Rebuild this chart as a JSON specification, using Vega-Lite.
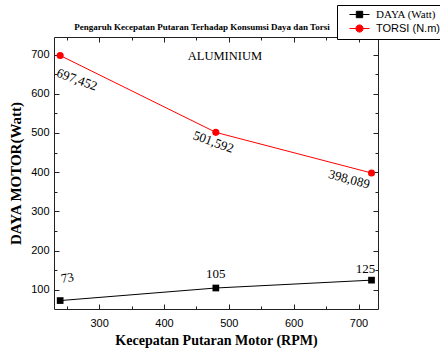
{
  "$schema": "https://vega.github.io/schema/vega-lite/v6.json",
  "autosize": "none",
  "width": 324,
  "height": 272,
  "padding": {"left": 54, "top": 37, "right": 62, "bottom": 39},
  "background": "white",
  "title": {
    "text": "Pengaruh Kecepatan Putaran Terhadap Konsumsi Daya dan Torsi",
    "font": "Liberation Serif",
    "fontSize": 9,
    "fontWeight": "bold",
    "color": "black",
    "anchor": "middle",
    "dx": -14,
    "dy": 32,
    "offset": 5
  },
  "config": {
    "view": {"stroke": "#222", "strokeWidth": 1},
    "axis": {
      "domain": false,
      "grid": false,
      "labelFont": "Liberation Sans",
      "labelFontSize": 11,
      "labelColor": "black",
      "tickColor": "#222",
      "titleColor": "black",
      "titleFont": "Liberation Serif",
      "titleFontWeight": "bold"
    }
  },
  "data": {
    "values": [
      {"rpm": 240, "series": "DAYA (Watt)", "value": 73, "label": "73"},
      {"rpm": 480, "series": "DAYA (Watt)", "value": 105, "label": "105"},
      {"rpm": 720, "series": "DAYA (Watt)", "value": 125, "label": "125"},
      {"rpm": 240, "series": "TORSI (N.m)", "value": 697.452, "label": "697,452"},
      {"rpm": 480, "series": "TORSI (N.m)", "value": 501.592, "label": "501,592"},
      {"rpm": 720, "series": "TORSI (N.m)", "value": 398.089, "label": "398,089"}
    ]
  },
  "layer": [
    {
      "mark": {"type": "line", "strokeWidth": 1},
      "encoding": {
        "x": {
          "field": "rpm", "type": "quantitative",
          "scale": {"domain": [230.5, 730], "nice": false, "zero": false},
          "axis": {
            "orient": "bottom",
            "title": "Kecepatan Putaran Motor (RPM)",
            "titleFontSize": 14,
            "titlePadding": 5,
            "values": [250, 300, 350, 400, 450, 500, 550, 600, 650, 700],
            "labelExpr": "datum.value % 100 === 0 ? datum.label : ''",
            "tickSize": {"condition": {"test": "datum.value % 100 === 0", "value": -5}, "value": -3},
            "labelPadding": 13
          }
        },
        "y": {
          "field": "value", "type": "quantitative",
          "scale": {"domain": [51.5, 744.6], "nice": false, "zero": false},
          "axis": {
            "orient": "left",
            "title": "DAYA MOTOR(Watt)",
            "titleFontSize": 15,
            "titlePadding": 7,
            "values": [100, 150, 200, 250, 300, 350, 400, 450, 500, 550, 600, 650, 700],
            "labelExpr": "datum.value % 100 === 0 ? datum.label : ''",
            "tickSize": {"condition": {"test": "datum.value % 100 === 0", "value": -5}, "value": -3},
            "labelPadding": 10
          }
        },
        "color": {
          "field": "series", "type": "nominal",
          "scale": {"domain": ["DAYA (Watt)", "TORSI (N.m)"], "range": ["black", "#ff0000"]},
          "legend": {
            "orient": "none",
            "legendX": 283,
            "legendY": -32,
            "title": null,
            "strokeColor": "black",
            "fillColor": "white",
            "padding": 4,
            "labelFontSize": 11,
            "labelColor": "black",
            "symbolSize": 64,
            "symbolOffset": 13,
            "rowPadding": 2,
            "labelOffset": 11,
            "encode": {
              "symbols": {
                "update": {
                  "shape": {"signal": "datum.value === 'DAYA (Watt)' ? 'M-2.5,0L2.5,0M-0.8,-0.8L0.8,-0.8L0.8,0.8L-0.8,0.8Z' : 'M-2.5,0L2.5,0M0.9,0A0.9,0.9 0 1,1 -0.9,0A0.9,0.9 0 1,1 0.9,0Z'"},
                  "fill": {"signal": "datum.value === 'DAYA (Watt)' ? 'black' : '#ff0000'"},
                  "stroke": {"signal": "datum.value === 'DAYA (Watt)' ? 'black' : '#ff0000'"},
                  "strokeWidth": {"value": 1},
                  "opacity": {"value": 1}
                }
              },
              "labels": {
                "update": {
                  "font": {"signal": "datum.value === 'DAYA (Watt)' ? 'Liberation Serif' : 'Liberation Sans'"},
                  "fontSize": {"value": 11}
                }
              }
            }
          }
        }
      }
    },
    {
      "transform": [{"filter": "datum.series === 'DAYA (Watt)'"}],
      "mark": {"type": "point", "shape": "square", "filled": true, "opacity": 1, "size": 45},
      "encoding": {
        "x": {
          "field": "rpm", "type": "quantitative",
          "axis": {
            "orient": "top",
            "title": null,
            "values": [250, 300, 350, 400, 450, 500, 550, 600, 650, 700],
            "labels": false,
            "tickSize": {"condition": {"test": "datum.value % 100 === 0", "value": -5}, "value": -3}
          }
        },
        "y": {
          "field": "value", "type": "quantitative",
          "axis": {
            "orient": "right",
            "title": null,
            "values": [100, 150, 200, 250, 300, 350, 400, 450, 500, 550, 600, 650, 700],
            "labels": false,
            "tickSize": {"condition": {"test": "datum.value % 100 === 0", "value": -5}, "value": -3}
          }
        },
        "color": {"field": "series", "type": "nominal", "legend": null}
      }
    },
    {
      "transform": [{"filter": "datum.series === 'TORSI (N.m)'"}],
      "mark": {"type": "point", "shape": "circle", "filled": true, "opacity": 1, "size": 50},
      "encoding": {
        "x": {"field": "rpm", "type": "quantitative", "axis": null},
        "y": {"field": "value", "type": "quantitative", "axis": null},
        "color": {"field": "series", "type": "nominal", "legend": null}
      }
    },
    {
      "transform": [{"filter": "datum.label === '697,452'"}],
      "mark": {"type": "text", "font": "Liberation Serif", "fontSize": 13, "angle": 20, "align": "center", "baseline": "middle", "color": "black", "dx": 24, "dy": 17},
      "encoding": {
        "x": {"field": "rpm", "type": "quantitative", "axis": null},
        "y": {"field": "value", "type": "quantitative", "axis": null},
        "text": {"field": "label"}
      }
    },
    {
      "transform": [{"filter": "datum.label === '501,592'"}],
      "mark": {"type": "text", "font": "Liberation Serif", "fontSize": 13, "angle": 20, "align": "center", "baseline": "middle", "color": "black", "dx": 1, "dy": 10},
      "encoding": {
        "x": {"field": "rpm", "type": "quantitative", "axis": null},
        "y": {"field": "value", "type": "quantitative", "axis": null},
        "text": {"field": "label"}
      }
    },
    {
      "transform": [{"filter": "datum.label === '398,089'"}],
      "mark": {"type": "text", "font": "Liberation Serif", "fontSize": 13, "angle": 15, "align": "center", "baseline": "middle", "color": "black", "dx": -20, "dy": 12},
      "encoding": {
        "x": {"field": "rpm", "type": "quantitative", "axis": null},
        "y": {"field": "value", "type": "quantitative", "axis": null},
        "text": {"field": "label"}
      }
    },
    {
      "transform": [{"filter": "datum.label === '73'"}],
      "mark": {"type": "text", "font": "Liberation Serif", "fontSize": 13, "angle": -10, "align": "center", "baseline": "middle", "color": "black", "dx": 11, "dy": -21},
      "encoding": {
        "x": {"field": "rpm", "type": "quantitative", "axis": null},
        "y": {"field": "value", "type": "quantitative", "axis": null},
        "text": {"field": "label"}
      }
    },
    {
      "transform": [{"filter": "datum.label === '105'"}],
      "mark": {"type": "text", "font": "Liberation Serif", "fontSize": 13, "align": "center", "baseline": "middle", "color": "black", "dx": 0, "dy": -14},
      "encoding": {
        "x": {"field": "rpm", "type": "quantitative", "axis": null},
        "y": {"field": "value", "type": "quantitative", "axis": null},
        "text": {"field": "label"}
      }
    },
    {
      "transform": [{"filter": "datum.label === '125'"}],
      "mark": {"type": "text", "font": "Liberation Serif", "fontSize": 13, "align": "center", "baseline": "middle", "color": "black", "dx": -6, "dy": -11},
      "encoding": {
        "x": {"field": "rpm", "type": "quantitative", "axis": null},
        "y": {"field": "value", "type": "quantitative", "axis": null},
        "text": {"field": "label"}
      }
    },
    {
      "data": {"values": [{"note": "ALUMINIUM"}]},
      "mark": {"type": "text", "font": "Liberation Serif", "fontSize": 12.5, "fontWeight": "normal", "align": "center", "baseline": "middle", "color": "black"},
      "encoding": {
        "x": {"datum": 494, "type": "quantitative", "axis": null},
        "y": {"datum": 695, "type": "quantitative", "axis": null},
        "text": {"field": "note"}
      }
    }
  ],
  "resolve": {"axis": {"x": "independent", "y": "independent"}}
}
